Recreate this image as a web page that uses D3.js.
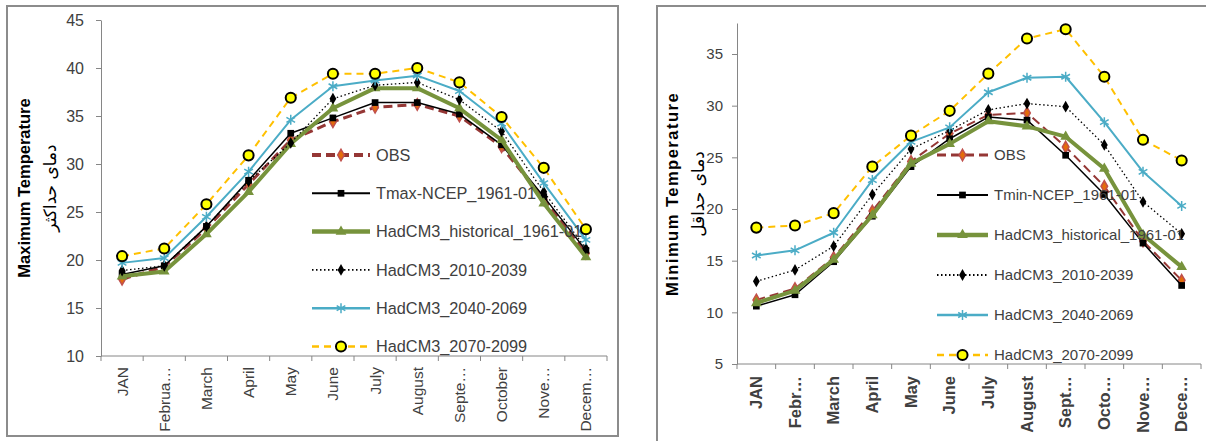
<!DOCTYPE html>
<html>
<head>
<meta charset="utf-8">
<script src="https://cdn.jsdelivr.net/npm/d3@7"></script>
<style>
  body { margin: 0; background: #fff; }
  svg { display: block; font-family: "Liberation Sans", Arial, sans-serif; }
</style>
</head>
<body>
<svg id="chart" width="1206" height="441"></svg>
<script>
// month labels (truncated the way the original axes show them)
const monthsMax = ["JAN", "Februa…", "March", "April", "May", "June", "July", "August", "Septe…", "October", "Nove…", "Decem…"];
const monthsMin = ["JAN", "Febr…", "March", "April", "May", "June", "July", "August", "Sept…", "Octo…", "Nove…", "Dece…"];

const seriesNames = ["OBS", "NCEP", "HadCM3_historical_1961-01", "HadCM3_2010-2039", "HadCM3_2040-2069", "HadCM3_2070-2099"];

// maximum temperature
const tmaxObs   = [18.0, 19.3, 23.3, 27.9, 32.5, 34.4, 35.9, 36.2, 35.0, 31.8, 26.3, 20.7];
const tmaxNcep  = [18.5, 19.4, 23.5, 28.3, 33.2, 34.8, 36.4, 36.4, 35.2, 32.0, 26.6, 21.0];
const tmaxHist  = [18.3, 18.8, 22.7, 27.1, 32.1, 35.8, 37.9, 37.9, 35.8, 32.5, 25.9, 20.3];
const tmax2010  = [18.9, 19.4, 23.5, 28.2, 32.2, 36.8, 38.2, 38.5, 36.7, 33.4, 27.1, 21.2];
const tmax2040  = [19.7, 20.2, 24.5, 29.2, 34.6, 38.1, 38.7, 39.2, 37.6, 34.2, 28.0, 22.1];
const tmax2070  = [20.4, 21.2, 25.8, 30.9, 36.9, 39.4, 39.4, 40.0, 38.5, 34.9, 29.6, 23.2];
const tmaxTicks = [10, 15, 20, 25, 30, 35, 40, 45];

// minimum temperature
const tminObs   = [11.2, 12.3, 15.3, 19.8, 24.6, 27.3, 29.1, 29.3, 26.0, 22.2, 16.9, 13.1];
const tminNcep  = [10.6, 11.7, 14.9, 19.3, 24.1, 26.8, 28.9, 28.6, 25.2, 21.4, 16.7, 12.6];
const tminHist  = [10.9, 12.1, 15.1, 19.4, 24.4, 26.3, 28.5, 28.0, 27.0, 23.9, 17.5, 14.4];
const tmin2010  = [13.0, 14.1, 16.4, 21.4, 25.8, 27.6, 29.6, 30.2, 29.9, 26.2, 20.7, 17.6];
const tmin2040  = [15.5, 16.0, 17.7, 22.8, 26.5, 27.9, 31.3, 32.7, 32.8, 28.4, 23.6, 20.3];
const tmin2070  = [18.2, 18.4, 19.6, 24.1, 27.1, 29.5, 33.1, 36.5, 37.4, 32.8, 26.7, 24.7];
const tminTicks = [5, 10, 15, 20, 25, 30, 35];

// how each series looks
const styles = [
    { color: "#953735", width: 3, dash: "9,5", symbol: d3.symbolDiamond, size: 38, fill: "#E46C0A", stroke: "#C0504D" },
    { color: "#000000", width: 1.5, dash: null, symbol: d3.symbolSquare, size: 45, fill: "#000", stroke: "none" },
    { color: "#77933C", width: 4, dash: null, symbol: d3.symbolTriangle, size: 50, fill: "#77933C", stroke: "none" },
    { color: "#000000", width: 1.3, dash: "1.5,2.5", symbol: d3.symbolDiamond, size: 40, fill: "#000", stroke: "none" },
    { color: "#4BACC6", width: 2, dash: null, symbol: d3.symbolAsterisk, size: 70, fill: "none", stroke: "#4BACC6" },
    { color: "#FFC000", width: 2, dash: "7,5", symbol: d3.symbolCircle, size: 80, fill: "#FFFF00", stroke: "#000" }
];

const svg = d3.select('#chart');

// panel frames
svg.append('rect').attr('x', 7).attr('y', 6).attr('width', 611).attr('height', 430)
    .attr('fill', 'none').attr('stroke', '#8c8c8c').attr('stroke-width', 2);
svg.append('path').attr('d', 'M657,445V6H1210')
    .attr('fill', 'none').attr('stroke', '#8c8c8c').attr('stroke-width', 2);

const drawPanel = (cfg) => {
    const g = svg.append('g');

    const x = d3.scaleBand().domain(d3.range(12)).range([cfg.left, cfg.right]).padding(0);
    const y = d3.scaleLinear().domain(cfg.domain).range([cfg.bottom, cfg.top]);

    // y axis
    const yAxis = g.append('g')
        .attr('transform', `translate(${cfg.left},0)`)
        .call(d3.axisLeft(y).tickValues(cfg.ticks).tickSize(5).tickSizeOuter(0).tickPadding(cfg.tickPad));
    yAxis.select('.domain').attr('stroke', '#868686');
    yAxis.selectAll('line').attr('stroke', '#868686');
    yAxis.selectAll('text').attr('font-size', cfg.tickSize).attr('fill', '#404040')
        .attr('font-family', '"Liberation Sans", sans-serif');

    // x axis line + boundary ticks
    g.append('line').attr('x1', cfg.left).attr('x2', cfg.right)
        .attr('y1', cfg.bottom).attr('y2', cfg.bottom).attr('stroke', '#868686');
    g.selectAll('.xtick').data(d3.range(13)).enter().append('line')
        .attr('class', 'xtick')
        .attr('x1', d => cfg.left + d * x.step()).attr('x2', d => cfg.left + d * x.step())
        .attr('y1', cfg.bottom).attr('y2', cfg.bottom + 5).attr('stroke', '#868686');

    g.selectAll('.xlabel').data(cfg.labels).enter().append('text')
        .attr('class', 'xlabel')
        .attr('transform', (d, i) => `translate(${x(i) + x.bandwidth() / 2},${cfg.bottom + cfg.labelGap}) rotate(-90)`)
        .attr('text-anchor', 'end').attr('dy', '0.35em')
        .attr('font-size', cfg.labelSize).attr('font-weight', cfg.labelWeight)
        .attr('fill', '#404040')
        .text(d => d);

    // axis titles
    g.append('text')
        .attr('transform', `translate(${cfg.titleX},${cfg.titleY}) rotate(-90)`)
        .attr('text-anchor', 'middle').attr('dy', '0.35em')
        .attr('font-size', cfg.titleSize).attr('font-weight', 'bold').attr('fill', '#000')
        .attr('letter-spacing', cfg.titleSpacing)
        .text(cfg.title);
    g.append('text')
        .attr('transform', `translate(${cfg.titleX + 26},${cfg.titleY}) rotate(-90)`)
        .attr('text-anchor', 'middle').attr('dy', '0.35em')
        .attr('font-family', '"DejaVu Sans", sans-serif')
        .attr('font-size', 17).attr('fill', '#000')
        .text(cfg.subTitle);

    // lines
    const line = d3.line().x((d, i) => x(i) + x.bandwidth() / 2).y(d => y(d));
    cfg.series.forEach((values, k) => {
        const st = styles[k];
        g.append('path').datum(values)
            .attr('d', line)
            .attr('fill', 'none')
            .attr('stroke', st.color)
            .attr('stroke-width', k === 0 ? cfg.obsWidth : st.width)
            .attr('stroke-dasharray', st.dash)
            .attr('stroke-linejoin', 'round');
        g.selectAll(`.m${k}`).data(values).enter().append('path')
            .attr('class', `m${k}`)
            .attr('transform', (d, i) => `translate(${x(i) + x.bandwidth() / 2},${y(d)})`)
            .attr('d', d3.symbol().type(st.symbol).size(st.size))
            .attr('fill', st.fill)
            .attr('stroke', st.stroke)
            .attr('stroke-width', k === 5 ? 2 : 1.5);
    });

    // legend
    cfg.legendNames.forEach((name, k) => {
        const st = styles[k];
        const ly = cfg.legendY + k * cfg.legendStep;
        g.append('line')
            .attr('x1', cfg.legendX).attr('x2', cfg.legendX + cfg.legendLen)
            .attr('y1', ly).attr('y2', ly)
            .attr('stroke', st.color)
            .attr('stroke-width', k === 0 ? cfg.obsWidth + 1 : st.width + 0.5)
            .attr('stroke-dasharray', st.dash);
        g.append('path')
            .attr('transform', `translate(${cfg.legendX + cfg.legendLen / 2},${ly})`)
            .attr('d', d3.symbol().type(st.symbol).size(st.size))
            .attr('fill', st.fill)
            .attr('stroke', st.stroke)
            .attr('stroke-width', k === 5 ? 2 : 1.5);
        g.append('text')
            .attr('x', cfg.legendX + cfg.legendLen + 6).attr('y', ly)
            .attr('dy', '0.35em')
            .attr('font-size', cfg.legendSize).attr('fill', '#404040')
            .text(name);
    });
};

drawPanel({
    left: 101, right: 607, top: 20, bottom: 356,
    domain: [10, 45], ticks: tmaxTicks, tickSize: 16, tickPad: 12,
    labels: monthsMax, labelGap: 11, labelSize: 15.5, labelWeight: 'normal',
    title: 'Maximum Temperature', subTitle: 'دمای حداکثر', titleX: 24, titleY: 188, titleSize: 16.5, titleSpacing: 0,
    series: [tmaxObs, tmaxNcep, tmaxHist, tmax2010, tmax2040, tmax2070],
    legendNames: ["OBS", "Tmax-NCEP_1961-01"].concat(seriesNames.slice(2)),
    legendX: 312, legendLen: 58, legendY: 155, legendStep: 38.3, legendSize: 16.3,
    obsWidth: 3
});

drawPanel({
    left: 737, right: 1201, top: 23, bottom: 364,
    domain: [5, 38], ticks: tminTicks, tickSize: 15, tickPad: 9,
    labels: monthsMin, labelGap: 12, labelSize: 16.5, labelWeight: 'bold',
    title: 'Minimum Temperature', subTitle: 'دمای حداقل', titleX: 672, titleY: 194, titleSize: 16.5, titleSpacing: 1.5,
    series: [tminObs, tminNcep, tminHist, tmin2010, tmin2040, tmin2070],
    legendNames: ["OBS", "Tmin-NCEP_1961-01"].concat(seriesNames.slice(2)),
    legendX: 937, legendLen: 51, legendY: 155, legendStep: 40, legendSize: 15,
    obsWidth: 2
});
</script>
</body>
</html>
